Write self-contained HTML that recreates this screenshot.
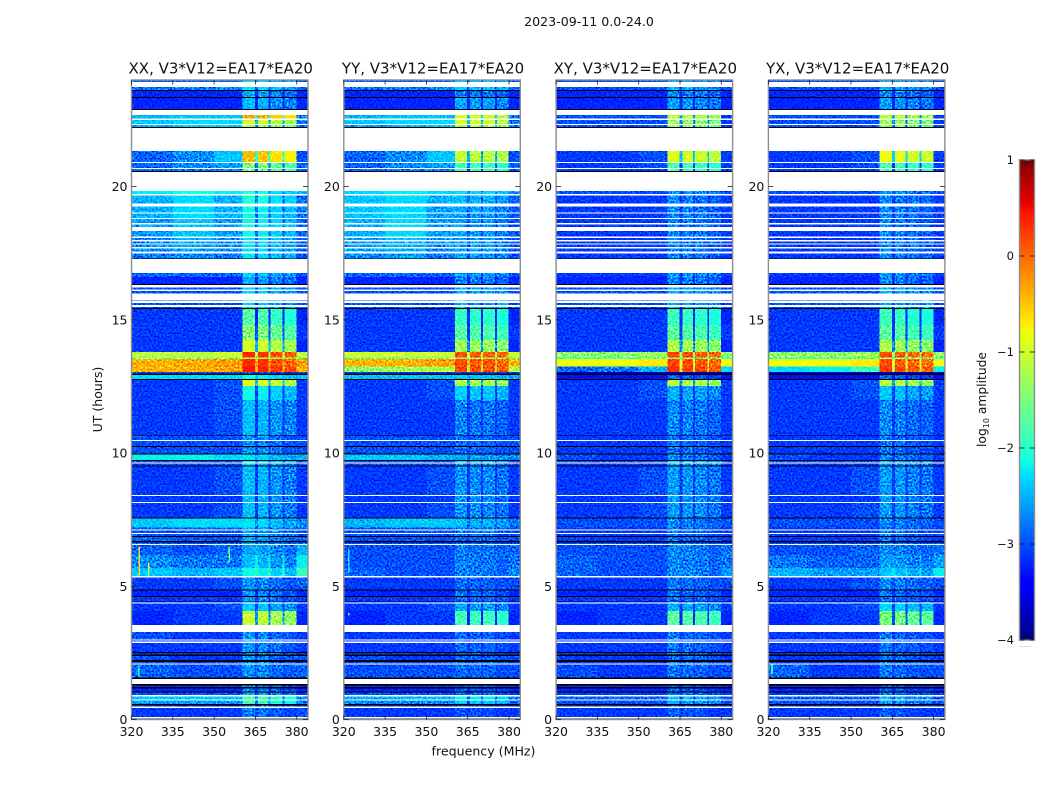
<!DOCTYPE html>
<html lang="en">
<head>
<meta charset="utf-8">
<title>2023-09-11 amplitude waterfall</title>
<style>
html,body{margin:0;padding:0;background:#fff;width:1050px;height:800px;overflow:hidden}
svg{display:block}
text{font-family:"DejaVu Sans","Liberation Sans",sans-serif;fill:#111}
</style>
</head>
<body>
<svg id="chart" xmlns="http://www.w3.org/2000/svg" width="1050" height="800" viewBox="0 0 1050 800">
<defs>
<filter id="speckle" x="0" y="0" width="100%" height="100%" color-interpolation-filters="sRGB">
<feTurbulence type="fractalNoise" baseFrequency="0.55" numOctaves="1" seed="7"/>
<feColorMatrix type="matrix" values="2.4 0 0 0 -0.7  2.4 0 0 0 -0.7  2.4 0 0 0 -0.7  0 0 0 0 1"/>
</filter>
</defs>
<text x="589" y="26" text-anchor="middle" font-size="12.6">2023-09-11 0.0-24.0</text>
<text x="483.5" y="755.5" text-anchor="middle" font-size="12.6">frequency (MHz)</text>
<text transform="translate(102,399.5) rotate(-90)" text-anchor="middle" font-size="12.5">UT (hours)</text>
<text transform="translate(986,399.5) rotate(-90)" text-anchor="middle" font-size="12.3">log<tspan font-size="8" dy="3">10</tspan><tspan dy="-3"> amplitude</tspan></text>
<g id="panels"></g>
<g id="colorbar"></g>
</svg>
<script>
// ---------- chart data ----------
const panelTitles = ['XX, V3*V12=EA17*EA20','YY, V3*V12=EA17*EA20','XY, V3*V12=EA17*EA20','YX, V3*V12=EA17*EA20'];
const xTicks = [320,335,350,365,380];
const yTicks = [0,5,10,15,20];
const colorbarTicks = [1,0,-1,-2,-3,-4];
// frequency segments outside the receiver bands (MHz)
const outerEdges = [320,335,350,360.4];
const receiverBands = [[360.4,364.8],[365.9,369.8],[370.5,374.9],[375.6,379.9]];
const freqMax = 384.1;
// upper edge (hours) of every time row, bottom to top
const rowTops = [
0.04,0.09,0.44,0.48,0.53,0.58,0.71,0.75,0.86,0.92,
1.01,1.05,1.17,1.22,1.28,1.33,1.52,1.58,2.06,2.10,
2.16,2.23,2.39,2.44,2.49,2.53,2.88,2.92,2.96,3.00,
3.29,3.55,4.07,4.35,4.39,4.42,4.45,4.60,4.63,4.84,
4.88,5.33,5.38,5.69,6.17,6.55,6.59,6.65,6.69,6.85,
6.89,6.96,7.00,7.09,7.13,7.21,7.54,7.58,8.12,8.16,
8.39,8.42,9.49,9.53,9.60,9.64,9.70,9.74,9.94,9.98,
10.23,10.27,10.45,10.49,10.65,10.68,11.99,12.51,12.74,12.77,
12.93,12.98,13.04,13.25,13.53,13.59,13.79,14.24,14.80,15.40,
15.44,15.49,15.55,15.64,15.70,15.73,15.99,16.09,16.14,16.22,
16.30,16.34,16.60,16.76,17.28,17.31,17.49,17.57,17.68,17.73,
17.82,17.87,17.94,18.00,18.07,18.12,18.33,18.49,18.57,18.63,
18.78,18.83,18.99,19.03,19.25,19.37,19.67,19.72,19.83,20.54,
20.58,20.66,20.69,20.89,20.93,21.33,22.19,22.23,22.32,22.35,
22.49,22.55,22.68,22.87,22.91,23.32,23.36,23.59,23.63,23.74,
23.93,24];
// d = data, w = flagged (white), k = zero amplitude (black)
const rowKinds =
'kwdwdkdwdw'+'dkdkdkwkdw'+'dkdkdkdwdw'+'dwddwdkdkd'+'kdwdddwdkd'+
'kdwdwddkdw'+'dwdkdwdkdk'+'dkdwdkdddk'+'dkdddddddd'+'kdwdwdwdwd'+
'wkddwkdwdw'+'dwdwdwdwdw'+'dwdwdwdwdw'+'kdwdwdwkdw'+'dwdwkdkdkd'+'wd';
// log10 amplitude per data row: [320-335, 335-350, 350-360, receiver bands, 380-384]
const xxLevels = [
[-3.1,-3.1,-3.1,-2.9,-3.0],[-3.1,-3.1,-3.1,-2.9,-3.1],[-2.6,-2.6,-2.6,-2.0,-2.8],[-2.4,-2.4,-2.4,-1.9,-2.7],
[-3.0,-3.0,-3.0,-2.7,-3.1],[-3.2,-3.2,-3.2,-2.8,-3.2],[-3.2,-3.2,-3.1,-2.8,-3.2],[-2.9,-3.0,-3.0,-2.8,-2.9],
[-3.0,-3.1,-3.0,-2.8,-3.0],[-3.0,-3.1,-3.1,-2.8,-3.0],[-3.1,-3.1,-3.1,-2.8,-3.1],[-3.1,-3.1,-3.1,-2.8,-3.1],
[-3.1,-3.1,-3.1,-2.8,-3.1],[-3.0,-3.1,-3.1,-2.8,-3.1],[-3.2,-3.1,-3.1,-1.2,-3.2],[-3.1,-3.1,-3.0,-2.5,-3.1],
[-3.1,-3.1,-3.1,-2.7,-3.1],[-3.1,-3.1,-3.1,-2.8,-3.1],[-3.2,-3.2,-3.2,-2.8,-3.2],[-3.1,-3.1,-3.0,-2.8,-2.9],
[-2.4,-2.5,-2.4,-2.3,-1.9],[-2.7,-2.8,-2.8,-2.6,-2.2],[-2.9,-3.0,-2.9,-2.7,-2.5],[-2.9,-3.0,-2.9,-2.7,-2.8],
[-2.9,-3.0,-3.0,-2.7,-2.9],[-3.0,-3.0,-3.0,-2.7,-3.0],[-3.0,-3.0,-3.0,-2.7,-3.0],[-2.9,-2.9,-2.9,-2.7,-2.9],
[-2.4,-2.3,-2.3,-2.4,-2.7],[-3.1,-3.1,-3.0,-2.6,-3.1],[-3.1,-3.1,-3.1,-2.6,-3.1],[-3.1,-3.1,-3.0,-2.6,-3.1],
[-3.0,-3.0,-3.0,-2.6,-3.0],[-3.0,-3.0,-3.0,-2.3,-3.0],[-2.2,-2.2,-2.3,-2.4,-2.5],[-3.0,-3.0,-3.0,-2.8,-3.0],
[-3.0,-3.0,-3.0,-2.8,-3.0],[-3.0,-3.0,-3.0,-2.8,-3.0],[-3.1,-3.1,-3.0,-2.6,-3.1],[-3.1,-3.1,-3.0,-2.3,-3.1],
[-3.1,-3.1,-3.0,-1.0,-3.1],[-2.3,-2.3,-2.3,-2.3,-2.4],[-3.0,-3.0,-3.0,-3.0,-3.0],[-0.4,-0.4,-0.3,0.3,-0.4],
[-0.4,-0.35,-0.3,0.2,-0.3],[-1.6,-1.6,-1.5,-1.2,-1.6],[-1.1,-1.1,-1.0,0.2,-1.1],[-3.1,-3.1,-3.1,-1.1,-3.2],
[-3.1,-3.1,-3.1,-1.6,-3.1],[-3.1,-3.1,-3.1,-1.9,-3.2],[-3.0,-3.0,-3.0,-2.5,-3.0],[-3.0,-3.0,-3.0,-2.5,-3.0],
[-3.0,-3.0,-3.0,-2.5,-3.0],[-3.0,-3.0,-3.0,-2.5,-3.0],[-3.0,-3.0,-3.0,-2.5,-3.0],[-3.2,-3.2,-3.2,-2.7,-3.2],
[-2.9,-2.9,-2.9,-2.5,-3.0],[-2.8,-2.7,-2.8,-2.4,-3.0],[-2.7,-2.6,-2.7,-2.4,-3.0],[-2.7,-2.6,-2.7,-2.4,-3.0],
[-2.7,-2.6,-2.7,-2.4,-3.0],[-2.7,-2.5,-2.7,-2.4,-3.0],[-2.6,-2.4,-2.6,-2.3,-2.9],[-2.6,-2.4,-2.6,-2.3,-2.9],
[-2.6,-2.4,-2.6,-2.3,-2.9],[-2.5,-2.3,-2.5,-2.3,-2.8],[-2.5,-2.3,-2.5,-2.3,-2.8],[-2.5,-2.3,-2.5,-2.2,-2.8],
[-2.2,-2.1,-2.2,-2.2,-2.5],[-2.9,-2.8,-2.7,-1.7,-3.0],[-2.9,-2.7,-2.6,-1.6,-2.9],[-2.9,-2.7,-2.4,-0.6,-3.0],
[-2.5,-2.4,-2.4,-1.3,-2.8],[-2.4,-2.3,-2.3,-1.1,-2.8],[-2.5,-2.4,-2.4,-0.5,-2.8],[-3.2,-3.2,-3.2,-2.6,-3.2],
[-3.2,-3.2,-3.2,-2.7,-3.2],[-2.8,-2.8,-2.7,-2.4,-2.9],[-2.9,-2.9,-2.9,-2.4,-3.0]];
const yyLevels = [
[-3.1,-3.1,-3.1,-3.0,-3.1],[-3.1,-3.1,-3.1,-3.0,-3.1],[-2.7,-2.7,-2.7,-2.4,-2.9],[-2.5,-2.5,-2.5,-2.2,-2.8],
[-3.0,-3.0,-3.0,-2.9,-3.1],[-3.2,-3.2,-3.2,-3.0,-3.2],[-3.2,-3.2,-3.1,-3.0,-3.2],[-3.0,-3.0,-3.0,-2.9,-3.0],
[-3.0,-3.1,-3.0,-2.9,-3.0],[-3.0,-3.1,-3.1,-2.9,-3.0],[-3.1,-3.1,-3.1,-2.9,-3.1],[-3.1,-3.1,-3.1,-2.9,-3.1],
[-3.1,-3.1,-3.1,-2.9,-3.1],[-3.1,-3.1,-3.1,-2.9,-3.1],[-3.2,-3.1,-3.1,-1.9,-3.2],[-3.1,-3.1,-3.0,-2.6,-3.1],
[-3.1,-3.1,-3.1,-2.8,-3.1],[-3.1,-3.1,-3.1,-2.9,-3.1],[-3.2,-3.2,-3.2,-2.9,-3.2],[-3.1,-3.1,-3.1,-2.9,-3.0],
[-2.9,-3.0,-3.0,-2.8,-2.7],[-3.0,-3.0,-3.0,-2.8,-2.8],[-3.0,-3.0,-3.0,-2.8,-2.9],[-3.0,-3.0,-3.0,-2.9,-3.0],
[-3.0,-3.0,-3.0,-2.9,-3.0],[-3.0,-3.0,-3.0,-2.9,-3.0],[-3.0,-3.0,-3.0,-2.8,-3.0],[-3.0,-3.0,-3.0,-2.8,-3.0],
[-2.5,-2.4,-2.4,-2.5,-2.8],[-3.1,-3.1,-3.0,-2.7,-3.1],[-3.1,-3.1,-3.1,-2.7,-3.1],[-3.1,-3.1,-3.0,-2.7,-3.1],
[-3.0,-3.0,-3.0,-2.7,-3.0],[-3.0,-3.0,-3.0,-2.4,-3.0],[-2.4,-2.4,-2.5,-2.6,-2.7],[-3.0,-3.0,-3.0,-2.9,-3.0],
[-3.0,-3.0,-3.0,-2.9,-3.0],[-3.0,-3.0,-3.0,-2.9,-3.0],[-3.1,-3.1,-3.1,-2.8,-3.1],[-3.1,-3.1,-3.0,-2.4,-3.1],
[-3.1,-3.1,-3.0,-1.2,-3.1],[-2.4,-2.4,-2.4,-2.4,-2.5],[-3.1,-3.1,-3.1,-3.0,-3.1],[-1.4,-1.3,-1.2,0.15,-1.2],
[-0.4,-0.4,-0.3,0.1,-0.4],[-1.7,-1.7,-1.6,-1.3,-1.7],[-1.0,-1.0,-1.0,0.1,-1.0],[-3.1,-3.1,-3.1,-1.3,-3.2],
[-3.1,-3.1,-3.1,-1.8,-3.1],[-3.1,-3.1,-3.1,-2.0,-3.2],[-3.0,-3.0,-3.0,-2.6,-3.0],[-3.0,-3.0,-3.0,-2.6,-3.0],
[-3.0,-3.0,-3.0,-2.6,-3.0],[-3.0,-3.0,-3.0,-2.6,-3.0],[-3.0,-3.0,-3.0,-2.6,-3.0],[-3.2,-3.2,-3.2,-2.8,-3.2],
[-2.9,-2.9,-2.9,-2.6,-3.0],[-2.7,-2.6,-2.8,-2.6,-3.0],[-2.6,-2.5,-2.7,-2.6,-3.0],[-2.6,-2.5,-2.7,-2.6,-3.0],
[-2.6,-2.5,-2.7,-2.6,-3.0],[-2.6,-2.4,-2.7,-2.6,-3.0],[-2.5,-2.3,-2.6,-2.6,-3.0],[-2.5,-2.3,-2.6,-2.6,-3.0],
[-2.5,-2.3,-2.6,-2.6,-3.0],[-2.4,-2.3,-2.6,-2.6,-3.0],[-2.4,-2.3,-2.6,-2.6,-2.9],[-2.4,-2.3,-2.5,-2.5,-2.9],
[-2.3,-2.2,-2.3,-2.3,-2.6],[-2.9,-2.8,-2.7,-1.9,-3.0],[-2.9,-2.7,-2.6,-1.9,-2.9],[-2.9,-2.7,-2.4,-1.1,-3.0],
[-2.6,-2.5,-2.4,-1.2,-2.8],[-2.4,-2.3,-2.3,-1.0,-2.8],[-2.5,-2.4,-2.4,-1.0,-2.8],[-3.2,-3.2,-3.2,-2.6,-3.2],
[-3.2,-3.2,-3.2,-2.8,-3.2],[-2.8,-2.8,-2.7,-2.4,-2.9],[-2.9,-2.9,-2.9,-2.4,-3.0]];
const xyLevels = [
[-3.1,-3.1,-3.1,-3.0,-3.1],[-3.1,-3.1,-3.1,-3.0,-3.1],[-3.0,-3.0,-3.0,-2.6,-3.0],[-2.9,-2.9,-2.9,-2.5,-3.0],
[-3.1,-3.1,-3.1,-2.9,-3.1],[-3.2,-3.2,-3.2,-3.0,-3.2],[-3.2,-3.2,-3.2,-3.0,-3.2],[-3.0,-3.1,-3.1,-2.9,-3.0],
[-3.1,-3.1,-3.1,-2.9,-3.1],[-3.1,-3.1,-3.1,-2.9,-3.1],[-3.1,-3.1,-3.1,-2.9,-3.1],[-3.1,-3.1,-3.1,-2.9,-3.1],
[-3.1,-3.1,-3.1,-2.9,-3.1],[-3.1,-3.1,-3.1,-2.9,-3.1],[-3.2,-3.1,-3.1,-1.8,-3.2],[-3.1,-3.1,-3.1,-2.6,-3.1],
[-3.1,-3.1,-3.1,-2.8,-3.1],[-3.1,-3.1,-3.1,-2.9,-3.1],[-3.2,-3.2,-3.2,-2.9,-3.2],[-3.1,-3.1,-3.1,-2.9,-3.0],
[-2.9,-3.0,-3.0,-2.8,-2.6],[-2.9,-3.0,-3.0,-2.8,-2.8],[-3.0,-3.0,-3.0,-2.8,-2.8],[-3.0,-3.0,-3.0,-2.9,-3.0],
[-3.1,-3.1,-3.1,-2.9,-3.1],[-3.1,-3.1,-3.1,-2.9,-3.1],[-3.1,-3.1,-3.1,-2.9,-3.1],[-3.1,-3.1,-3.1,-2.9,-3.1],
[-3.0,-3.0,-3.0,-2.8,-3.0],[-3.1,-3.1,-3.0,-2.7,-3.1],[-3.1,-3.1,-3.1,-2.7,-3.1],[-3.1,-3.1,-3.0,-2.7,-3.1],
[-3.1,-3.1,-3.1,-2.7,-3.1],[-3.0,-3.0,-3.0,-2.4,-3.0],[-3.0,-3.1,-3.1,-2.8,-3.1],[-3.1,-3.1,-3.1,-2.9,-3.1],
[-3.1,-3.1,-3.1,-2.9,-3.1],[-3.1,-3.1,-3.1,-2.9,-3.1],[-3.1,-3.1,-3.1,-2.8,-3.1],[-3.1,-3.1,-3.0,-2.6,-3.1],
[-3.1,-3.1,-3.0,-1.2,-3.1],[-3.3,-3.3,-3.3,-3.0,-3.3],[-3.7,-3.7,-3.7,-3.7,-3.7],[-2.9,-2.8,-2.5,0.2,-2.3],
[-0.8,-0.8,-0.7,0.1,-0.8],[-1.9,-1.9,-1.8,-1.4,-1.9],[-1.4,-1.4,-1.3,0.1,-1.4],[-3.1,-3.1,-3.1,-1.3,-3.2],
[-3.1,-3.1,-3.1,-1.8,-3.1],[-3.1,-3.1,-3.1,-2.0,-3.2],[-3.0,-3.0,-3.0,-2.6,-3.0],[-3.0,-3.0,-3.0,-2.6,-3.0],
[-3.0,-3.0,-3.0,-2.6,-3.0],[-3.0,-3.0,-3.0,-2.6,-3.0],[-3.0,-3.0,-3.0,-2.6,-3.0],[-3.2,-3.2,-3.2,-2.8,-3.2],
[-3.1,-3.1,-3.1,-2.7,-3.1],[-3.1,-3.1,-3.1,-2.8,-3.1],[-3.1,-3.1,-3.1,-2.8,-3.1],[-3.1,-3.1,-3.1,-2.8,-3.1],
[-3.1,-3.1,-3.1,-2.8,-3.1],[-3.1,-3.1,-3.1,-2.8,-3.1],[-3.1,-3.1,-3.1,-2.8,-3.1],[-3.1,-3.1,-3.1,-2.8,-3.1],
[-3.1,-3.1,-3.1,-2.8,-3.1],[-3.1,-3.1,-3.1,-2.8,-3.1],[-3.1,-3.1,-3.1,-2.8,-3.1],[-3.1,-3.1,-3.1,-2.8,-3.1],
[-3.0,-3.0,-3.0,-2.7,-3.0],[-3.1,-3.1,-3.1,-1.9,-3.1],[-3.1,-3.1,-3.0,-1.9,-3.1],[-3.1,-3.1,-3.0,-1.0,-3.1],
[-3.0,-3.0,-3.0,-1.5,-3.1],[-3.0,-3.0,-3.0,-1.4,-3.1],[-3.0,-3.0,-3.0,-1.2,-3.1],[-3.2,-3.2,-3.2,-2.7,-3.2],
[-3.2,-3.2,-3.2,-2.8,-3.2],[-3.0,-3.0,-3.0,-2.6,-3.0],[-3.0,-3.0,-3.0,-2.6,-3.0]];
const yxLevels = [
[-3.1,-3.1,-3.1,-3.0,-3.1],[-3.1,-3.1,-3.1,-3.0,-3.1],[-3.0,-3.0,-3.0,-2.7,-3.0],[-2.9,-2.9,-2.9,-2.6,-3.0],
[-3.1,-3.1,-3.1,-2.9,-3.1],[-3.2,-3.2,-3.2,-3.0,-3.2],[-3.2,-3.2,-3.2,-3.0,-3.2],[-2.9,-3.1,-3.1,-2.9,-3.0],
[-3.1,-3.1,-3.1,-2.9,-3.1],[-3.1,-3.1,-3.1,-2.9,-3.1],[-3.1,-3.1,-3.1,-2.9,-3.1],[-3.1,-3.1,-3.1,-2.9,-3.1],
[-3.1,-3.1,-3.1,-2.9,-3.1],[-3.1,-3.1,-3.1,-2.9,-3.1],[-3.2,-3.1,-3.1,-1.6,-3.2],[-3.1,-3.1,-3.0,-2.4,-3.1],
[-3.1,-3.1,-3.1,-2.8,-3.1],[-3.1,-3.1,-3.1,-2.9,-3.1],[-3.2,-3.2,-3.2,-2.9,-3.2],[-3.1,-3.1,-3.0,-2.8,-3.0],
[-2.5,-2.6,-2.6,-2.5,-2.2],[-2.8,-2.9,-2.9,-2.7,-2.6],[-3.0,-3.0,-2.9,-2.8,-2.8],[-3.0,-3.0,-3.0,-2.9,-3.0],
[-3.1,-3.1,-3.1,-2.9,-3.1],[-3.1,-3.1,-3.1,-2.9,-3.1],[-3.1,-3.1,-3.1,-2.9,-3.1],[-3.1,-3.1,-3.1,-2.9,-3.1],
[-3.0,-3.0,-3.0,-2.8,-3.0],[-3.1,-3.1,-3.0,-2.7,-3.1],[-3.1,-3.1,-3.1,-2.7,-3.1],[-3.1,-3.1,-3.0,-2.7,-3.1],
[-3.1,-3.1,-3.1,-2.7,-3.1],[-3.0,-3.0,-3.0,-2.6,-3.0],[-3.0,-3.1,-3.1,-2.8,-3.1],[-3.1,-3.1,-3.1,-2.9,-3.1],
[-3.1,-3.1,-3.1,-2.9,-3.1],[-3.1,-3.1,-3.1,-2.9,-3.1],[-3.1,-3.1,-3.1,-2.8,-3.1],[-3.1,-3.1,-3.0,-2.5,-3.1],
[-3.1,-3.1,-3.0,-1.2,-3.1],[-3.3,-3.3,-3.3,-3.0,-3.3],[-3.6,-3.6,-3.6,-3.6,-3.6],[-2.3,-2.2,-1.9,0.15,-2.2],
[-0.8,-0.8,-0.7,0.05,-0.8],[-1.9,-1.9,-1.8,-1.4,-1.9],[-1.4,-1.4,-1.3,0.05,-1.4],[-3.1,-3.1,-3.1,-1.3,-3.2],
[-3.1,-3.1,-3.1,-1.8,-3.1],[-3.1,-3.1,-3.1,-2.0,-3.2],[-3.0,-3.0,-3.0,-2.6,-3.0],[-3.0,-3.0,-3.0,-2.6,-3.0],
[-3.0,-3.0,-3.0,-2.6,-3.0],[-3.0,-3.0,-3.0,-2.6,-3.0],[-3.0,-3.0,-3.0,-2.6,-3.0],[-3.2,-3.2,-3.2,-2.8,-3.2],
[-3.1,-3.1,-3.1,-2.7,-3.1],[-3.1,-3.1,-3.1,-2.8,-3.1],[-3.1,-3.1,-3.1,-2.8,-3.1],[-3.1,-3.1,-3.1,-2.8,-3.1],
[-3.1,-3.1,-3.1,-2.8,-3.1],[-3.1,-3.1,-3.1,-2.8,-3.1],[-3.1,-3.1,-3.1,-2.8,-3.1],[-3.1,-3.1,-3.1,-2.8,-3.1],
[-3.1,-3.1,-3.1,-2.8,-3.1],[-3.1,-3.1,-3.1,-2.8,-3.1],[-3.1,-3.1,-3.1,-2.8,-3.1],[-3.1,-3.1,-3.1,-2.8,-3.1],
[-3.0,-3.0,-3.0,-2.7,-3.0],[-3.1,-3.1,-3.1,-1.9,-3.1],[-3.1,-3.1,-3.0,-1.9,-3.1],[-3.1,-3.1,-3.0,-0.9,-3.1],
[-3.0,-3.0,-3.0,-1.5,-3.1],[-3.0,-3.0,-3.0,-1.4,-3.1],[-3.0,-3.0,-3.0,-1.2,-3.1],[-3.2,-3.2,-3.2,-2.7,-3.2],
[-3.2,-3.2,-3.2,-2.8,-3.2],[-3.0,-3.0,-3.0,-2.6,-3.0],[-3.0,-3.0,-3.0,-2.6,-3.0]];
// offset of each receiver band relative to the row's band level
const xxBandTrim = [0.15,0.1,-0.05,-0.15];
const yyBandTrim = [0.05,0,0,-0.1];
const xyBandTrim = [0.1,0.05,0,-0.1];
const yxBandTrim = [0.1,0.05,-0.05,-0.1];
// narrow interference: [MHz, start hour, end hour, log10 amplitude]
const xxSpikes = [[322.5,5.4,6.5,-0.6],[326,5.4,5.9,-1.0],[355.2,5.9,6.5,-1.5],[322.3,1.6,2.0,-2.0]];
const yySpikes = [[321.5,3.9,4.0,-1.6],[321.5,5.5,6.4,-2.2]];
const xySpikes = [];
const yxSpikes = [[321,1.7,2.1,-2.0]];

const panelLevels = [xxLevels,yyLevels,xyLevels,yxLevels];
const panelTrims = [xxBandTrim,yyBandTrim,xyBandTrim,yxBandTrim];
const panelSpikes = [xxSpikes,yySpikes,xySpikes,yxSpikes];

// ---------- scales ----------
const NS='http://www.w3.org/2000/svg';
const plotTop=80, plotBottom=719.5, plotWidth=176.5;
function panelLeft(i){return 131.5+i*212.3;}
function yScale(h){return plotBottom-h*(plotBottom-plotTop)/24;}
function xScale(i,f){return panelLeft(i)+(f-320)/(freqMax-320)*plotWidth;}
function jet(v){
  const t=Math.max(0,Math.min(1,(v+4)/5));
  let r,g,b;
  r=t<.35?0:t<.66?(t-.35)/.31:t<.89?1:1-(t-.89)/.11*.5;
  g=t<.125?0:t<.375?(t-.125)/.25:t<.64?1:t<.91?1-(t-.64)/.27:0;
  b=t<.11?.5+t/.11*.5:t<.34?1:t<.65?1-(t-.34)/.31:0;
  return 'rgb('+Math.round(r*255)+','+Math.round(g*255)+','+Math.round(b*255)+')';
}
function mk(tag,attrs,parent){
  const el=document.createElementNS(NS,tag);
  for(const k in attrs)el.setAttribute(k,attrs[k]);
  parent.appendChild(el);
  return el;
}
function cell(parent,x0,x1,y0,y1,fill){
  const el=mk('rect',{x:x0,y:y1,width:x1-x0,height:y0-y1,fill:fill,'shape-rendering':'crispEdges'},parent);
  
  
  return el;
}

// ---------- panels ----------
const root=document.getElementById('panels');
panelTitles.forEach(function(title,p){
  const g=mk('g',{},root);
  
  
  const left=panelLeft(p), right=left+plotWidth;
  const dataLayer=mk('g',{},g);
  
  
  dataLayer.setAttribute('style','isolation:isolate');
  const levels=panelLevels[p], trim=panelTrims[p];
  // data rows
  let d=0, prev=0;
  rowTops.forEach(function(top,r){
    const kind=rowKinds[r];
    if(kind==='d'){
      const row=levels[d++];
      const y0=yScale(prev), y1=yScale(top);
      for(let c=0;c<3;c++)cell(dataLayer,xScale(p,outerEdges[c]),xScale(p,outerEdges[c+1]),y0,y1,jet(row[c]));
      receiverBands.forEach(function(band,b){
        cell(dataLayer,xScale(p,band[0]),xScale(p,band[1]),y0,y1,jet(row[3]+trim[b]));
        const next=receiverBands[b+1]?receiverBands[b+1][0]:freqMax;
        const gapLevel=receiverBands[b+1]?Math.max(row[4],row[3]-1.4):row[4];
        cell(dataLayer,xScale(p,band[1]),xScale(p,next),y0,y1,jet(gapLevel));
      });
    }
    prev=top;
  });
  panelSpikes[p].forEach(function(s){
    cell(dataLayer,xScale(p,s[0]),xScale(p,s[0])+1.6,yScale(s[1]),yScale(s[2]),jet(s[3]));
  });
  // amplitude speckle texture (decorative)
  const speck=mk('rect',{x:left,y:plotTop,width:plotWidth,height:plotBottom-plotTop,filter:'url(#speckle)',style:'mix-blend-mode:overlay'},dataLayer);
  
  
  // flagged rows on top of the texture
  prev=0;
  rowTops.forEach(function(top,r){
    const kind=rowKinds[r];
    if(kind!=='d'){
      const el=mk('rect',{x:left,y:yScale(top),width:plotWidth,height:yScale(prev)-yScale(top),fill:kind==='w'?'#fff':'#000','shape-rendering':'crispEdges'},g);
      
      
    }
    prev=top;
  });
  // frame
  const frame=mk('rect',{x:left,y:plotTop,width:plotWidth,height:plotBottom-plotTop,fill:'none',stroke:'#8c8c8c','stroke-width':1.4},g);
  
  
  // ticks
  xTicks.forEach(function(t){
    const x=xScale(p,t);
    const a=mk('line',{x1:x,x2:x,y1:plotBottom,y2:plotBottom-4.5,stroke:'#222','stroke-width':.8},g);
    
    
    const b=mk('line',{x1:x,x2:x,y1:plotTop,y2:plotTop+4.5,stroke:'#222','stroke-width':.8},g);
    
    
    const l=mk('text',{x:x,y:736,'text-anchor':'middle','font-size':12.5},g);
    
    
    l.textContent=t;
  });
  yTicks.forEach(function(t){
    const y=yScale(t);
    const a=mk('line',{x1:left,x2:left+5,y1:y,y2:y,stroke:'#222','stroke-width':.8},g);
    
    
    const b=mk('line',{x1:right,x2:right-5,y1:y,y2:y,stroke:'#222','stroke-width':.8},g);
    
    
    const l=mk('text',{x:left-4,y:y+4.5,'text-anchor':'end','font-size':12.5},g);
    
    
    l.textContent=t;
  });
  const tt=mk('text',{x:left+plotWidth/2+1,y:73.5,'text-anchor':'middle','font-size':15},g);
  
  
  tt.textContent=title;
});

// ---------- colorbar ----------
const cb=document.getElementById('colorbar');
const cbLeft=1019.5, cbRight=1034.5, cbTop=160, cbBottom=640;
function cbY(v){return cbBottom-(v+4)/5*(cbBottom-cbTop);}
for(let py=cbTop;py<cbBottom;py+=2){
  const v=-4+(cbBottom-py-1)/(cbBottom-cbTop)*5;
  const s=mk('rect',{x:cbLeft,y:py,width:cbRight-cbLeft,height:2,fill:jet(v),'shape-rendering':'crispEdges'},cb);
  
  
}
const cbFrame=mk('rect',{x:cbLeft,y:cbTop,width:cbRight-cbLeft,height:cbBottom-cbTop,fill:'none',stroke:'#8c8c8c','stroke-width':1.4},cb);


colorbarTicks.forEach(function(t){
  const y=cbY(t);
  const a=mk('line',{x1:cbLeft,x2:cbLeft+5,y1:y,y2:y,stroke:'#111','stroke-width':.8},cb);
  
  
  const b=mk('line',{x1:cbRight,x2:cbRight-5,y1:y,y2:y,stroke:'#111','stroke-width':.8},cb);
  
  
  const l=mk('text',{x:1014,y:y+4,'text-anchor':'end','font-size':11.5},cb);
  
  
  l.textContent=String(t).replace('-','\u2212');
});
for(let k=0;k<5;k++){
  const x=cbLeft+2.5*(k+1)+.5;
  const a=mk('line',{x1:x,x2:x,y1:cbTop,y2:cbTop+4,stroke:'#111','stroke-width':.6},cb);
  
  
  const b=mk('line',{x1:x,x2:x,y1:cbBottom,y2:cbBottom-4,stroke:'#111','stroke-width':.6},cb);
  
  
  const dot=mk('rect',{x:x-3,y:646,width:1,height:1,fill:'#aaa'},cb);
  
  
}
</script>
</body>
</html>
